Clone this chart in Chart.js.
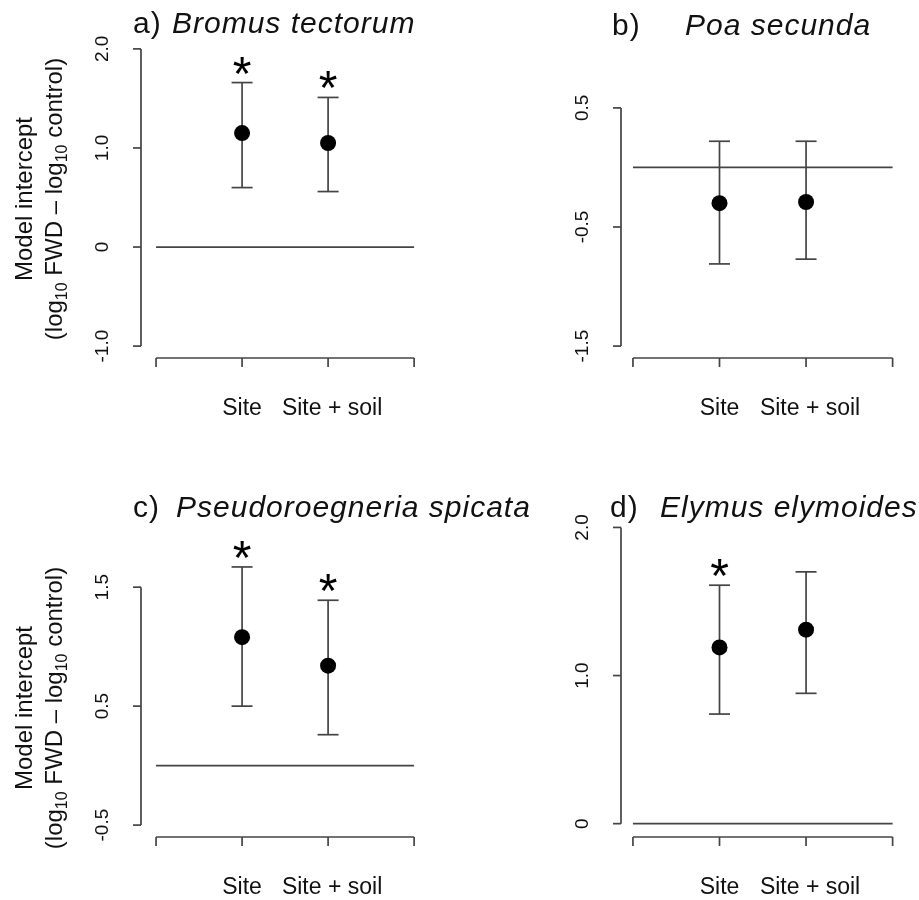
<!DOCTYPE html>
<html>
<head>
<meta charset="utf-8">
<script src="https://cdn.jsdelivr.net/npm/chart.js@4.4.1/dist/chart.umd.min.js"></script>
<style>
  body { margin: 0; background: #fff; }
  #wrap { position: relative; width: 919px; height: 900px; }
  #wrap canvas { position: absolute; left: 0; top: 0; }
</style>
</head>
<body>
<div id="wrap">
  <canvas id="panel0" width="919" height="900"></canvas>
  <canvas id="panel1" width="919" height="900"></canvas>
  <canvas id="panel2" width="919" height="900"></canvas>
  <canvas id="panel3" width="919" height="900"></canvas>
</div>
<script>
// categories on the x axis and where they sit on the numeric scale
const categories = ['Site', 'Site + soil'];
const categoryPositions = [1, 2];
const xTickValues = [0, 1, 2, 3];

const panelLetters = ['a)', 'b)', 'c)', 'd)'];
const speciesNames = ['Bromus tectorum', 'Poa secunda', 'Pseudoroegneria spicata', 'Elymus elymoides'];

// model intercept (log10 FWD - log10 control) with CI, [Site, Site + soil]
const interceptA = [1.15, 1.05];
const lowerA = [0.60, 0.56];
const upperA = [1.66, 1.51];
const signifA = [true, true];

const interceptB = [-0.30, -0.29];
const lowerB = [-0.81, -0.77];
const upperB = [0.22, 0.22];
const signifB = [false, false];

const interceptC = [1.08, 0.84];
const lowerC = [0.50, 0.26];
const upperC = [1.67, 1.39];
const signifC = [true, true];

const interceptD = [1.19, 1.31];
const lowerD = [0.74, 0.88];
const upperD = [1.61, 1.70];
const signifD = [true, false];

// y tick values and labels per panel
const yTicksA = [-1, 0, 1, 2];
const yLabelsA = ['-1.0', '0', '1.0', '2.0'];
const yTicksB = [-1.5, -0.5, 0.5];
const yLabelsB = ['-1.5', '-0.5', '0.5'];
const yTicksC = [-0.5, 0.5, 1.5];
const yLabelsC = ['-0.5', '0.5', '1.5'];
const yTicksD = [0, 1, 2];
const yLabelsD = ['0', '1.0', '2.0'];

const panels = [
  { est: interceptA, lo: lowerA, hi: upperA, sig: signifA, ticks: yTicksA, labels: yLabelsA },
  { est: interceptB, lo: lowerB, hi: upperB, sig: signifB, ticks: yTicksB, labels: yLabelsB },
  { est: interceptC, lo: lowerC, hi: upperC, sig: signifC, ticks: yTicksC, labels: yLabelsC },
  { est: interceptD, lo: lowerD, hi: upperD, sig: signifD, ticks: yTicksD, labels: yLabelsD }
];

// page layout: plot box [left, top, right, bottom], scale ranges, title spot
const layouts = [
  { box: [141, 37, 424, 358], x: [-0.175, 3.115], y: [-1.12, 2.12], title: [133, 33, 172], yTitle: 199 },
  { box: [621, 96, 903, 358], x: [-0.138, 3.12], y: [-1.6, 0.6], title: [612, 35, 685] },
  { box: [141, 492, 424, 837], x: [-0.175, 3.115], y: [-0.6, 2.3], title: [133, 517, 176], yTitle: 708 },
  { box: [621, 483, 903, 837], x: [-0.138, 3.12], y: [-0.09, 2.3], title: [610, 517, 660] }
];

const INK = '#444';
const FAMILY = '"Liberation Sans", Arial, Helvetica, sans-serif';

function seg(ctx, x1, y1, x2, y2) {
  ctx.beginPath();
  ctx.moveTo(x1, y1);
  ctx.lineTo(x2, y2);
  ctx.stroke();
}

function drawYTitle(ctx, cy) {
  ctx.save();
  ctx.fillStyle = '#111';
  ctx.textBaseline = 'alphabetic';
  // first line
  ctx.save();
  ctx.translate(32, cy);
  ctx.rotate(-Math.PI / 2);
  ctx.font = '24px ' + FAMILY;
  ctx.textAlign = 'center';
  ctx.fillText('Model intercept', 0, 0);
  ctx.restore();
  // second line with subscripts
  const parts = [['(log', false], ['10', true], [' FWD \u2013 log', false], ['10', true], [' control)', false]];
  const fontFor = sub => (sub ? '16px ' : '24px ') + FAMILY;
  let total = 0;
  parts.forEach(([t, sub]) => { ctx.font = fontFor(sub); total += ctx.measureText(t).width; });
  ctx.translate(62, cy);
  ctx.rotate(-Math.PI / 2);
  ctx.textAlign = 'left';
  let cur = -total / 2;
  parts.forEach(([t, sub]) => {
    ctx.font = fontFor(sub);
    ctx.fillText(t, cur, sub ? 5 : 0);
    cur += ctx.measureText(t).width;
  });
  ctx.restore();
}

const rAxesPlugin = {
  id: 'rAxes',
  beforeDatasetsDraw(chart, args, opts) {
    const p = panels[opts.index];
    const { ctx, scales: { x, y } } = chart;
    ctx.save();
    ctx.strokeStyle = INK;
    ctx.lineWidth = 1.7;
    // reference line at zero
    const y0 = y.getPixelForValue(0);
    seg(ctx, x.getPixelForValue(xTickValues[0]), y0, x.getPixelForValue(xTickValues[xTickValues.length - 1]), y0);
    // confidence intervals
    p.est.forEach((v, i) => {
      const px = x.getPixelForValue(categoryPositions[i]);
      const lo = y.getPixelForValue(p.lo[i]);
      const hi = y.getPixelForValue(p.hi[i]);
      seg(ctx, px, lo, px, hi);
      seg(ctx, px - 10.5, lo, px + 10.5, lo);
      seg(ctx, px - 10.5, hi, px + 10.5, hi);
    });
    ctx.restore();
  },
  afterDraw(chart, args, opts) {
    const idx = opts.index;
    const p = panels[idx];
    const L = layouts[idx];
    const { ctx, chartArea, scales: { x, y } } = chart;
    ctx.save();
    ctx.strokeStyle = INK;
    ctx.lineWidth = 1.7;
    ctx.fillStyle = '#111';

    // y axis (R style, spans first to last tick)
    const ax = chartArea.left;
    const yt = p.ticks.map(v => y.getPixelForValue(v));
    seg(ctx, ax, Math.min(...yt), ax, Math.max(...yt));
    ctx.font = '19px ' + FAMILY;
    ctx.textAlign = 'center';
    ctx.textBaseline = 'alphabetic';
    yt.forEach((py, i) => {
      seg(ctx, ax - 8, py, ax, py);
      ctx.save();
      ctx.translate(ax - 33, py);
      ctx.rotate(-Math.PI / 2);
      ctx.fillText(p.labels[i], 0, 0);
      ctx.restore();
    });

    // x axis
    const by = chartArea.bottom;
    const xt = xTickValues.map(v => x.getPixelForValue(v));
    seg(ctx, xt[0], by, xt[xt.length - 1], by);
    xt.forEach(px => seg(ctx, px, by, px, by + 9));
    ctx.font = '23px ' + FAMILY;
    categories.forEach((c, i) => {
      ctx.fillText(c, x.getPixelForValue(categoryPositions[i]) + (i === 1 ? 4 : 0), by + 57);
    });

    // significance stars
    ctx.font = '48px ' + FAMILY;
    ctx.fillStyle = '#000';
    p.sig.forEach((s, i) => {
      if (!s) return;
      const px = x.getPixelForValue(categoryPositions[i]);
      const py = y.getPixelForValue(p.hi[i]);
      ctx.fillText('*', px, py + 7);
    });

    // panel title
    ctx.fillStyle = '#111';
    ctx.textAlign = 'left';
    ctx.letterSpacing = '1px';
    ctx.font = '30px ' + FAMILY;
    ctx.fillText(panelLetters[idx], L.title[0], L.title[1]);
    ctx.font = 'italic 30px ' + FAMILY;
    ctx.fillText(speciesNames[idx], L.title[2], L.title[1]);
    ctx.letterSpacing = '0px';
    ctx.restore();

    if (L.yTitle) drawYTitle(ctx, L.yTitle);
  }
};

panels.forEach((p, idx) => {
  const L = layouts[idx];
  new Chart(document.getElementById('panel' + idx), {
    type: 'scatter',
    data: {
      datasets: [{
        data: p.est.map((v, i) => ({ x: categoryPositions[i], y: v })),
        pointRadius: 8,
        pointBackgroundColor: '#000',
        pointBorderWidth: 0,
        clip: false
      }]
    },
    options: {
      responsive: false,
      animation: false,
      events: [],
      layout: {
        padding: { left: L.box[0], top: L.box[1], right: 919 - L.box[2], bottom: 900 - L.box[3] }
      },
      scales: {
        x: { type: 'linear', min: L.x[0], max: L.x[1], display: false },
        y: { type: 'linear', min: L.y[0], max: L.y[1], display: false }
      },
      plugins: {
        legend: { display: false },
        tooltip: { enabled: false },
        rAxes: { index: idx }
      }
    },
    plugins: [rAxesPlugin]
  });
});
</script>
</body>
</html>
